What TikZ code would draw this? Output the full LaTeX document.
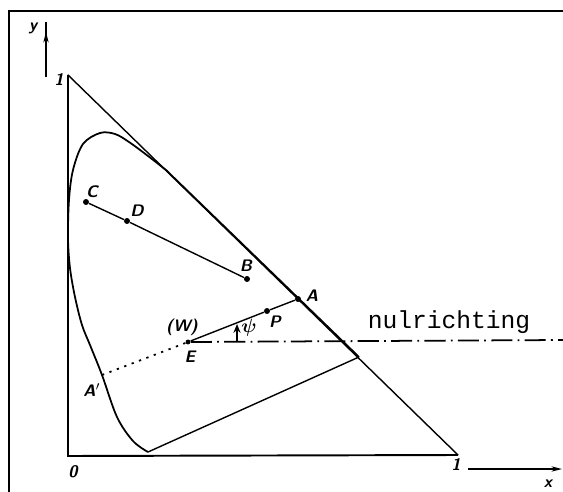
\documentclass[tikz,border=0pt]{standalone}
\usepackage{fontspec}
\newfontfamily\nulfont{Liberation Mono}
\usetikzlibrary{arrows.meta}
\begin{document}
\begin{tikzpicture}[x=0.02cm,y=-0.02cm,
  ln/.style={line width=0.8pt, line join=round},
  axisln/.style={line width=1.1pt},
  lbl/.style={font=\fontsize{9.5}{10}\selectfont\sffamily\bfseries\slshape, inner sep=0pt},
  pt/.style={circle, fill=black, inner sep=0pt, minimum size=3.4pt},
  dashdot/.style={line width=1pt, dash pattern=on 12pt off 3pt on 1pt off 3pt},
  dotln/.style={line width=1pt, dash pattern=on 1.3pt off 3.2pt}]
\useasboundingbox (0,0) rectangle (563,492);
% frame
\draw[line width=0.9pt] (9,492) -- (9,11) -- (563,11);
% coordinates
\coordinate (O) at (68,456);
\coordinate (Y1) at (68,75);
\coordinate (X1) at (458,455);
\coordinate (ya) at (46,77);
\coordinate (yb) at (46,22);
\coordinate (yc) at (46,32);
\coordinate (xa) at (468,469);
\coordinate (xb) at (562,469);
\coordinate (PL) at (148,452);
\coordinate (PR) at (359,357);
\coordinate (NE) at (563,340);
% axes and triangle
\draw[axisln] (Y1) -- (O) -- (X1);
\draw[ln] (Y1) -- (X1);
\draw[line width=0.9pt] (ya) -- (yb);
\draw[line width=0.9pt,-{Stealth[length=6pt,width=3pt]}] (ya) -- (yc);
\draw[line width=0.9pt,-{Stealth[length=6pt,width=3pt]}] (xa) -- (xb);
% spectral locus
\draw[line width=1pt] plot[smooth, tension=0.55] coordinates {
  (148,452) (133,441) (117,417) (102,375) (90,345) (82,325) (75,297)
  (70,268) (68,238) (69,200) (73,170) (83,144) (100,133) (115,134)
  (129,142) (148,156) (166,170)} -- (PR);
\draw[ln] (PL) -- (PR);
% points
\node[pt] (C) at (86,202) {};
\node[pt] (D) at (127,221) {};
\node[pt] (B) at (247,279) {};
\node[pt] (A) at (298,299) {};
\node[pt] (P) at (267,311) {};
\node[pt, minimum size=2.8pt] (E) at (188,342) {};
\coordinate (Ap) at (102,375);
\coordinate (ps1) at (237,341);
\coordinate (ps2) at (237,324);
\draw[ln] (C) -- (D) -- (B);
\draw[ln] (E) -- (P) -- (A);
\draw[dotln] (E) -- (Ap);
\draw[dashdot] (E) -- (NE);
\draw[line width=1pt,-{Stealth[length=5pt,width=4pt]}] (ps1) -- (ps2);
% labels
\node[lbl] (ly) at (33,28) {y};
\node[lbl] (l1y) at (59,80) {1};
\node[lbl] (l0) at (73,472) {0};
\node[lbl] (l1x) at (456,465) {1};
\node[lbl] (lx) at (548,484) {x};
\node[lbl] (lC) at (92,192) {C};
\node[lbl] (lD) at (137,211) {D};
\node[lbl] (lB) at (246,266) {B};
\node[lbl] (lA) at (312,296) {A};
\node[lbl] (lP) at (275,322) {P};
\node[lbl] (lW) at (182,327) {(W)};
\node[lbl] (lE) at (190,357) {E};
\node[lbl, font=\fontsize{11}{11}\selectfont\boldmath] (lpsi) at (249,328) {$\psi$};
\node[lbl] (lAp) at (92,390) {A$'$};
\node[font=\fontsize{14}{14}\selectfont\nulfont, inner sep=0pt] (nul) at (449,322) {nulrichting};
\end{tikzpicture}
\end{document}
